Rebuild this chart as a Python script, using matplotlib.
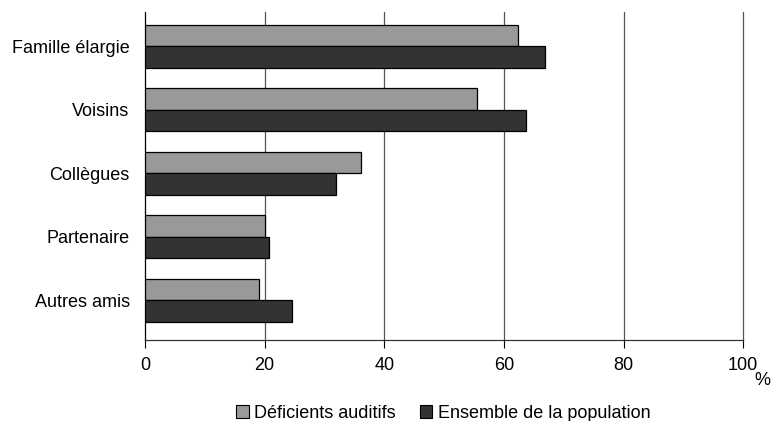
import numpy as np
import matplotlib.pyplot as plt
from matplotlib.patches import Patch

plt.rcParams['font.family'] = ['Liberation Sans', 'DejaVu Sans']

categories = ['Autres amis', 'Partenaire', 'Collègues', 'Voisins', 'Famille élargie']
deficients = [19.1, 20.1, 36.1, 55.5, 62.3]
ensemble = [24.6, 20.7, 31.9, 63.7, 66.9]
series_names = ['Déficients auditifs', 'Ensemble de la population']
xticks = [0, 20, 40, 60, 80, 100]

fig = plt.figure(figsize=(7.71, 4.21), dpi=100)
ax = fig.add_axes([0.188, 0.192, 0.776, 0.779])

y = np.arange(len(categories))
h = 0.34
ax.barh(y + h / 2, deficients, height=h, color='#999999', edgecolor='black', linewidth=0.9, zorder=3)
ax.barh(y - h / 2, ensemble, height=h, color='#333333', edgecolor='black', linewidth=0.9, zorder=3)

ax.set_xlim(0, 100)
ax.set_ylim(-0.63, 4.54)
ax.set_xticks(xticks)
ax.set_xticklabels([str(t) for t in xticks], fontsize=13)
ax.set_yticks(y)
ax.set_yticklabels(categories, fontsize=13)
ax.tick_params(axis='y', length=0, pad=11)
ax.tick_params(axis='x', length=6, width=0.8, pad=6, direction='out')

for t in xticks[1:]:
    ax.axvline(t, color='#555555', linewidth=0.9, zorder=1, clip_on=False)
for s in ['top', 'right']:
    ax.spines[s].set_visible(False)
ax.spines['left'].set_linewidth(0.9)
ax.spines['bottom'].set_linewidth(0.9)
ax.spines['bottom'].set_color('#333333')

fig.text(0.999, 0.097, '%', fontsize=13, ha='right', va='center')

handles = [Patch(facecolor='#999999', edgecolor='black', linewidth=0.8),
           Patch(facecolor='#333333', edgecolor='black', linewidth=0.8)]
fig.legend(handles, series_names, loc='lower center', bbox_to_anchor=(0.575, -0.04), ncol=2,
           frameon=False, fontsize=13, handlelength=0.7, handleheight=0.7,
           handletextpad=0.3, columnspacing=1.3)

fig.savefig('out.png', dpi=100)
